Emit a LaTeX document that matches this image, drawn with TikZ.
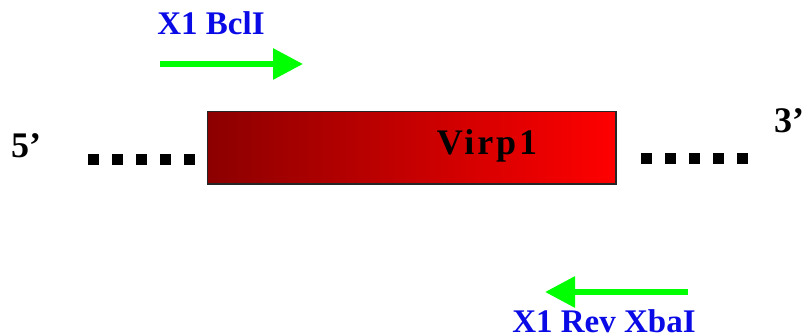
\documentclass[tikz,border=0pt]{standalone}
\usepackage{fontspec}
\setmainfont{Liberation Serif}
\usetikzlibrary{arrows.meta}
\definecolor{primgreen}{RGB}{0,255,0}
\definecolor{primblue}{RGB}{10,10,230}
\definecolor{genedark}{RGB}{140,0,0}
\definecolor{genelight}{RGB}{255,0,0}
\begin{document}
\begin{tikzpicture}[x=1pt,y=-1pt,
  primer/.style={draw=primgreen,line width=6pt,-{Triangle[length=30pt,width=30pt]}},
  primerlabel/.style={text=primblue,font=\fontsize{33}{38}\selectfont\bfseries,inner sep=0pt},
  endlabel/.style={font=\fontsize{36}{40}\selectfont\bfseries,inner sep=0pt},
  dotline/.style={line width=11pt,dash pattern=on 11pt off 13pt},
  gene/.style={draw=black!85,line width=1.5pt,left color=genedark,right color=genelight,shading angle=90}]
\useasboundingbox (0,0) rectangle (809,336);
% gene box
\path[gene] (207.5,111.5) rectangle (616,184);
\node[font=\fontsize{36}{40}\selectfont\bfseries\addfontfeatures{LetterSpace=8},inner sep=0pt,anchor=base] (virp) at (487,155) {Virp1};
% flanking dots
\coordinate (l1) at (88,160);
\coordinate (l2) at (196,160);
\coordinate (r1) at (641,159);
\coordinate (r2) at (749,159);
\draw[dotline] (l1) -- (l2);
\draw[dotline] (r1) -- (r2);
% ends
\node[endlabel,anchor=base] (five) at (26,158) {5’};
\node[endlabel,anchor=base] (three) at (789,133) {3’};
% primers
\node[primerlabel,anchor=base] (fwdlabel) at (211,35) {X1 BclI};
\coordinate (f1) at (160,64);
\coordinate (f2) at (303,64);
\draw[primer] (f1) -- (f2);
\coordinate (b1) at (688,292);
\coordinate (b2) at (545,292);
\draw[primer] (b1) -- (b2);
\node[primerlabel,anchor=base] (revlabel) at (604,333) {X1 Rev XbaI};
\end{tikzpicture}
\end{document}
